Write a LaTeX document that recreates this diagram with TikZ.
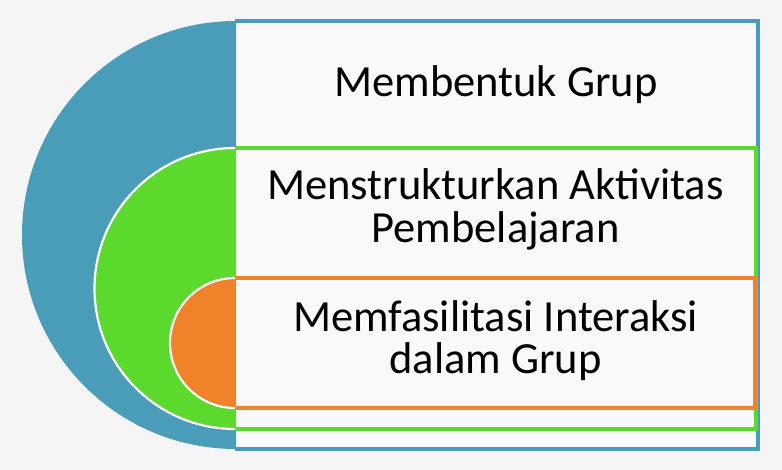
\documentclass[tikz,border=0pt]{standalone}
\usepackage{fontspec}
\setmainfont{Carlito}
\definecolor{bgc}{HTML}{F5F5F5}
\definecolor{boxfill}{HTML}{F9F9F9}
\definecolor{blueC}{HTML}{4A9DB8}
\definecolor{greenC}{HTML}{5BD92D}
\definecolor{orangeC}{HTML}{F0822A}
\begin{document}
\begin{tikzpicture}[x=1pt,y=1pt,
  lbl/.style={font=\fontsize{44.5}{52}\selectfont, anchor=base, inner sep=0pt, text=black},
  edge/.style={line width=3.5pt},
  rim/.style={draw=white, line width=2.2pt}]
\fill[bgc] (0,0) rectangle (782,470);
\useasboundingbox (0,0) rectangle (782,470);
% blue level
\fill[boxfill] (235,449) rectangle (758,21);
\draw[edge, blueC] (235,449) -- (758,449) -- (758,21) -- (235,21);
\fill[blueC] (236,449) arc[start angle=90, end angle=270, radius=214] -- cycle;
% green level
\fill[boxfill] (236,322) rectangle (756,41);
\draw[edge, greenC] (235,322) -- (756,322) -- (756,41) -- (235,41);
\fill[greenC] (236,322) arc[start angle=90, end angle=270, radius=140.5] -- cycle;
\draw[rim] (235,322) arc[start angle=90, end angle=270, radius=140.5];
% orange level
\fill[boxfill] (236,192) rectangle (755,62);
\draw[edge, orangeC] (235,192) -- (755,192) -- (755,62) -- (235,62);
\fill[orangeC] (236,192) arc[start angle=90, end angle=270, radius=65] -- cycle;
\draw[rim] (235,192) arc[start angle=90, end angle=270, radius=65];
% labels
\node[lbl] (t1) at (496,373.3) {Membentuk Grup};
\node[lbl] (t2a) at (495.5,270) {Menstrukturkan Aktivitas};
\node[lbl] (t2b) at (495.5,227) {Pembelajaran};
\node[lbl] (t3a) at (495.5,138) {Memfasilitasi Interaksi};
\node[lbl] (t3b) at (495.5,96) {dalam Grup};
\end{tikzpicture}
\end{document}
